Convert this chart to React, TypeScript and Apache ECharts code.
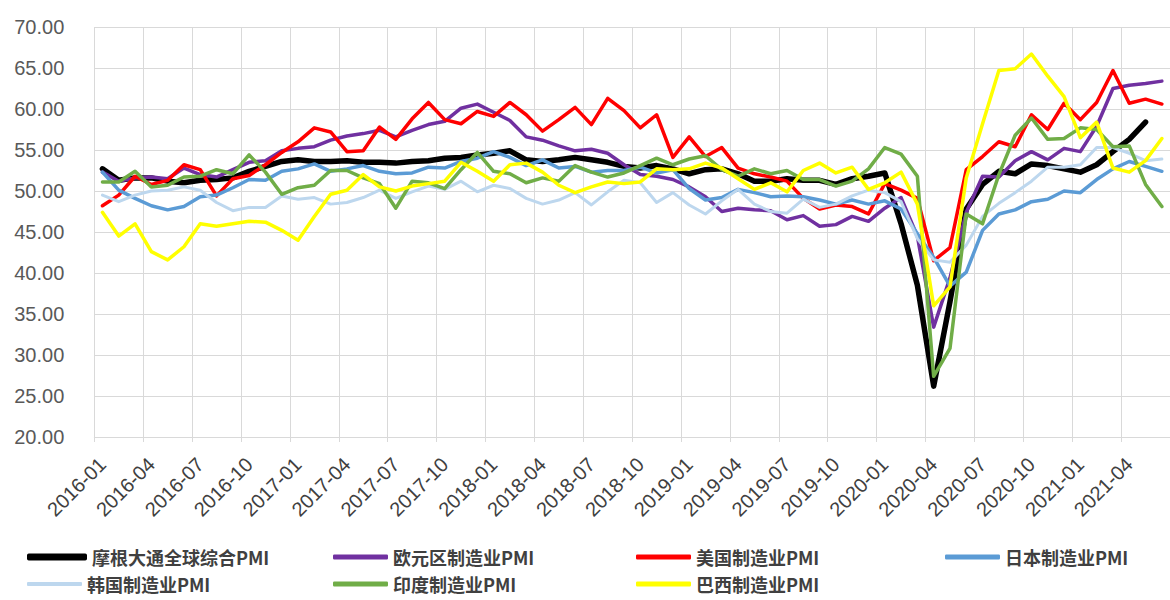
import React, { useEffect, useRef } from "react";
import * as echarts from "echarts";

const categories = [
  "2016-01","2016-02","2016-03","2016-04","2016-05","2016-06","2016-07","2016-08","2016-09","2016-10","2016-11","2016-12",
  "2017-01","2017-02","2017-03","2017-04","2017-05","2017-06","2017-07","2017-08","2017-09","2017-10","2017-11","2017-12",
  "2018-01","2018-02","2018-03","2018-04","2018-05","2018-06","2018-07","2018-08","2018-09","2018-10","2018-11","2018-12",
  "2019-01","2019-02","2019-03","2019-04","2019-05","2019-06","2019-07","2019-08","2019-09","2019-10","2019-11","2019-12",
  "2020-01","2020-02","2020-03","2020-04","2020-05","2020-06","2020-07","2020-08","2020-09","2020-10","2020-11","2020-12",
  "2021-01","2021-02","2021-03","2021-04","2021-05","2021-06",
];

const globalPMI = [
  52.7, 51.3, 51.6, 51.6, 51.2, 51.0, 51.3, 51.4, 51.6, 52.4, 53.0, 53.6,
  53.8, 53.6, 53.6, 53.7, 53.5, 53.5, 53.4, 53.6, 53.7, 54.0, 54.1, 54.4,
  54.6, 54.9, 53.8, 53.6, 53.8, 54.1, 53.8, 53.5, 53.0, 52.8, 53.1, 52.7,
  52.1, 52.6, 52.7, 52.1, 51.2, 51.2, 51.5, 51.3, 51.3, 50.8, 51.5, 51.8,
  52.2, 46.0, 38.5, 26.2, 36.5, 47.8, 50.8, 52.4, 52.1, 53.3, 53.1, 52.7,
  52.3, 53.2, 54.8, 56.3, 58.4, null,
];

const euroPMI = [
  52.3, 51.2, 51.6, 51.7, 51.5, 52.8, 52.0, 51.7, 52.6, 53.5, 53.7, 54.9,
  55.2, 55.4, 56.2, 56.7, 57.0, 57.4, 56.6, 57.4, 58.1, 58.5, 60.1, 60.6,
  59.6, 58.6, 56.6, 56.2, 55.5, 54.9, 55.1, 54.6, 53.2, 52.0, 51.8, 51.4,
  50.5, 49.3, 47.5, 47.9, 47.7, 47.6, 46.5, 47.0, 45.7, 45.9, 46.9, 46.3,
  47.9, 49.2, 44.5, 33.4, 39.4, 47.4, 51.8, 51.7, 53.7, 54.8, 53.8, 55.2,
  54.8, 57.9, 62.5, 62.9, 63.1, 63.4,
];

const usPMI = [
  48.2, 49.5, 51.8, 50.8, 51.3, 53.2, 52.6, 49.4, 51.5, 51.9, 53.2, 54.7,
  56.0, 57.7, 57.2, 54.8, 54.9, 57.8, 56.3, 58.8, 60.8, 58.7, 58.2, 59.7,
  59.1, 60.8, 59.3, 57.3, 58.7, 60.2, 58.1, 61.3, 59.8, 57.7, 59.3, 54.1,
  56.6, 54.2, 55.3, 52.8, 52.1, 51.7, 51.2, 49.1, 47.8, 48.3, 48.1, 47.2,
  50.9, 50.1, 49.1, 41.5, 43.1, 52.6, 54.2, 56.0, 55.4, 59.3, 57.5, 60.7,
  58.7, 60.8, 64.7, 60.7, 61.2, 60.6,
];

const japanPMI = [
  52.3, 50.1, 49.1, 48.2, 47.7, 48.1, 49.3, 49.5, 50.4, 51.4, 51.3, 52.4,
  52.7, 53.3, 52.4, 52.7, 53.1, 52.4, 52.1, 52.2, 52.9, 52.8, 53.6, 54.0,
  54.8, 54.1, 53.1, 53.8, 52.8, 53.0, 52.3, 52.5, 52.5, 52.9, 52.2, 52.6,
  50.3, 48.9, 49.2, 50.2, 49.8, 49.3, 49.4, 49.3, 48.9, 48.4, 48.9, 48.4,
  48.8, 47.8, 44.8, 41.9, 38.4, 40.1, 45.2, 47.2, 47.7, 48.7, 49.0, 50.0,
  49.8, 51.4, 52.7, 53.6, 53.0, 52.4,
];

const koreaPMI = [
  49.5, 48.7, 49.5, 50.0, 50.1, 50.5, 50.1, 48.6, 47.6, 48.0, 48.0, 49.4,
  49.0, 49.2, 48.4, 48.6, 49.2, 50.1, 49.1, 49.9, 50.6, 50.2, 51.2, 49.9,
  50.7, 50.3, 49.1, 48.4, 48.9, 49.8, 48.3, 49.9, 51.3, 51.0, 48.6, 49.8,
  48.3, 47.2, 48.8, 50.2, 48.4, 47.5, 47.3, 49.0, 48.0, 48.4, 49.4, 50.1,
  49.8, 48.7, 44.2, 41.6, 41.3, 43.4, 46.9, 48.5, 49.8, 51.2, 52.9, 52.9,
  53.2, 55.3, 55.3, 54.6, 53.7, 53.9,
];

const indiaPMI = [
  51.1, 51.1, 52.4, 50.5, 50.7, 51.7, 51.8, 52.6, 52.1, 54.4, 52.3, 49.6,
  50.4, 50.7, 52.5, 52.5, 51.6, 50.9, 47.9, 51.2, 51.0, 50.3, 52.6, 54.7,
  52.4, 52.1, 51.0, 51.6, 51.2, 53.1, 52.3, 51.7, 52.2, 53.1, 54.0, 53.2,
  53.9, 54.3, 52.6, 51.8, 52.7, 52.1, 52.5, 51.4, 51.4, 50.6, 51.2, 52.7,
  55.3, 54.5, 51.8, 27.4, 30.8, 47.2, 46.0, 52.0, 56.8, 58.9, 56.3, 56.4,
  57.7, 57.5, 55.4, 55.5, 50.8, 48.1,
];

const brazilPMI = [
  47.4, 44.5, 46.0, 42.6, 41.6, 43.2, 46.0, 45.7, 46.0, 46.3, 46.2, 45.2,
  44.0, 46.9, 49.6, 50.1, 52.0, 50.5, 50.0, 50.6, 50.9, 51.2, 53.5, 52.4,
  51.2, 53.2, 53.4, 52.3, 50.7, 49.8, 50.5, 51.1, 50.9, 51.1, 52.7, 52.6,
  52.7, 53.4, 52.8, 51.5, 50.2, 51.0, 49.9, 52.5, 53.4, 52.2, 52.9, 50.2,
  51.0, 52.3, 48.4, 36.0, 38.3, 51.6, 58.2, 64.7, 64.9, 66.7, 64.0, 61.5,
  56.5, 58.4, 52.8, 52.3, 53.7, 56.4,
];

const seriesNames = [
  "摩根大通全球综合PMI",
  "欧元区制造业PMI",
  "美国制造业PMI",
  "日本制造业PMI",
  "韩国制造业PMI",
  "印度制造业PMI",
  "巴西制造业PMI",
];
const seriesData = [globalPMI, euroPMI, usPMI, japanPMI, koreaPMI, indiaPMI, brazilPMI];
const seriesColors = ["#000000", "#7030A0", "#FF0000", "#5B9BD5", "#BDD7EE", "#70AD47", "#FFFF00"];
const seriesWidths = [5.5, 3.5, 3.5, 3.5, 3, 3.5, 3.5];

const legendPos = [
  { left: 27, top: 548, h: 7 },
  { left: 333, top: 548, h: 5 },
  { left: 636, top: 548, h: 5 },
  { left: 945, top: 548, h: 5 },
  { left: 27, top: 575, h: 4 },
  { left: 333, top: 575, h: 5 },
  { left: 636, top: 575, h: 5 },
];

export default function App() {
  const ref = useRef<HTMLDivElement>(null);
  useEffect(() => {
    if (!ref.current) return;
    const chart = echarts.init(ref.current, null, { renderer: "svg" });
    const option = {
      animation: false,
      backgroundColor: "#ffffff",
      grid: { left: 94.3, right: -7.4, top: 27, bottom: 163, containLabel: false },
      xAxis: {
        type: "category",
        data: categories,
        boundaryGap: true,
        axisLine: { show: true, lineStyle: { color: "#d9d9d9", width: 1 } },
        axisTick: { show: true, interval: 2, length: 5, lineStyle: { color: "#d9d9d9" } },
        axisLabel: {
          interval: 2,
          rotate: 45,
          fontSize: 20,
          color: "#404040",
          fontFamily: "Liberation Sans",
          margin: 24,
        },
        splitLine: { show: true, interval: 2, lineStyle: { color: "#d9d9d9", width: 1 } },
      },
      yAxis: {
        type: "value",
        min: 20,
        max: 70,
        interval: 5,
        axisLine: { show: false },
        axisTick: { show: false },
        axisLabel: {
          formatter: (v: number) => v.toFixed(2),
          fontSize: 20,
          color: "#595959",
          fontFamily: "Liberation Sans",
          margin: 30,
        },
        splitLine: { show: true, lineStyle: { color: "#d9d9d9", width: 1 } },
      },
      legend: seriesNames.map((name, i) => ({
        data: [name],
        left: legendPos[i].left,
        top: legendPos[i].top,
        padding: 0,
        itemWidth: i === 0 ? 60 : 55,
        itemHeight: legendPos[i].h,
        icon: "roundRect",
        selectedMode: false,
        textStyle: {
          fontSize: 18,
          fontWeight: "bold",
          color: "#404040",
          fontFamily: "Noto Sans CJK SC",
          padding: [0, 0, 0, 0],
        },
      })),
      series: seriesNames.map((name, i) => ({
        name,
        type: "line",
        data: seriesData[i],
        showSymbol: false,
        symbol: "none",
        connectNulls: false,
        itemStyle: { color: seriesColors[i] },
        lineStyle: { color: seriesColors[i], width: seriesWidths[i], join: "round", cap: "round" },
      })),
    };
    chart.setOption(option as any);
    return () => chart.dispose();
  }, []);
  return (
    <div
      ref={ref}
      style={{ position: "absolute", left: 0, top: 0, width: 1170, height: 600, background: "#fff" }}
    />
  );
}
